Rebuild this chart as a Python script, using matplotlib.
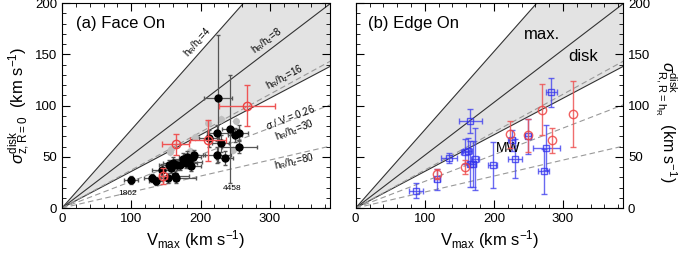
import numpy as np
import matplotlib.pyplot as plt
from matplotlib.ticker import MultipleLocator

plt.rcParams['font.family'] = ['Liberation Sans', 'DejaVu Sans']
plt.rcParams['mathtext.fontset'] = 'custom'
plt.rcParams['mathtext.rm'] = 'Liberation Sans'
plt.rcParams['mathtext.it'] = 'Liberation Sans:italic'
plt.rcParams['mathtext.bf'] = 'Liberation Sans:bold'

# slopes of the reference lines (sigma / Vmax)
slope_solid = [0.763, 0.515, 0.357]          # hR/hz = 4, 8, 16
slope_dash = [0.37, 0.26, 0.156]             # upper grey, sigma/V=0.26 (hR/hz=30), hR/hz=80

# panel (a): face-on, black points
a_x = [100, 130, 136, 144, 153, 155, 158, 160, 163, 164, 166, 170, 175, 179, 181,
       184, 186, 189, 191, 212, 224, 225, 229, 224, 235, 243, 250, 256, 256]
a_y = [27, 29, 26, 37, 29, 42, 39, 44, 31, 29, 42, 42, 48, 44, 50,
       45, 41, 50, 52, 68, 73, 107, 63, 52, 49, 77, 71, 73, 60]
a_xerr = [10, 12, 10, 14, 12, 15, 12, 14, 20, 30, 12, 14, 15, 16, 12,
          18, 14, 12, 15, 14, 15, 20, 12, 20, 12, 12, 10, 12, 25]
a_yerr = [4, 4, 4, 6, 5, 5, 5, 6, 5, 5, 5, 5, 6, 5, 6,
          6, 5, 5, 5, 8, 8, 62, 8, 8, 7, 53, 7, 8, 6]
# panel (a): grey points
g_x = [156, 158, 185, 192, 211, 230, 251, 247]
g_y = [55, 58, 56, 69, 83, 87, 85, 57]
# panel (a): red open circles
ra_x = [146, 164, 211, 267]
ra_y = [31, 62, 66, 100]
ra_xerr = [6, 19, 26, 40]
ra_yerr = [8, 10, 20, 20]

# panel (b): edge-on, blue squares
b_x = [87, 118, 135, 166, 158, 162, 166, 170, 173, 198, 226, 231, 249, 272, 276, 283]
b_y = [17, 28, 49, 85, 55, 56, 43, 43, 48, 42, 66, 48, 70, 36, 59, 113]
b_xerr = [10, 4, 12, 17, 6, 6, 4, 4, 6, 6, 5, 10, 4, 8, 20, 8]
b_yerr = [7, 10, 5, 12, 12, 12, 22, 22, 30, 22, 10, 19, 17, 22, 22, 14]
# panel (b): red open circles
rb_x = [118, 158, 224, 249, 269, 284, 315]
rb_y = [33, 40, 72, 71, 96, 66, 92]
rb_yerr = [5, 7, 13, 16, 25, 12, 32]

xx = np.array([0, 400])

fig = plt.figure(figsize=(6.84, 2.54), dpi=100)
ax1 = fig.add_axes([0.0906, 0.181, 0.392, 0.807])
ax2 = fig.add_axes([0.520, 0.181, 0.391, 0.807])

for ax in (ax1, ax2):
    ax.fill_between(xx, slope_solid[2]*xx, slope_solid[0]*xx, color='#e3e3e3', lw=0, zorder=0)
    for s in slope_solid:
        ax.plot(xx, s*xx, color='#333333', lw=0.8, zorder=1)
    for s in slope_dash:
        ax.plot(xx, s*xx, color='#999999', lw=0.8, ls=(0, (5, 3)), zorder=1)
    ax.set_xlim(0, 387)
    ax.set_ylim(0, 200)
    ax.xaxis.set_major_locator(MultipleLocator(100))
    ax.xaxis.set_minor_locator(MultipleLocator(20))
    ax.yaxis.set_major_locator(MultipleLocator(50))
    ax.yaxis.set_minor_locator(MultipleLocator(10))
    ax.tick_params(which='both', direction='in', top=True, right=True, labelsize=9.5)
    ax.tick_params(which='major', length=6)
    ax.tick_params(which='minor', length=3)
    ax.set_xlabel(r'V$_{\rm max}$ (km s$^{-1}$)', fontsize=12, labelpad=2)

# panel (a)
ax1.errorbar(g_x, g_y, xerr=5, yerr=4, fmt='o', ms=4, color='#c0c0c0', ecolor='#d0d0d0',
             elinewidth=0.8, capsize=0, zorder=2)
ax1.errorbar(a_x, a_y, xerr=a_xerr, yerr=a_yerr, fmt='o', ms=5, color='black', ecolor='#555555',
             elinewidth=0.9, capsize=1.2, zorder=3)
ax1.errorbar(ra_x, ra_y, xerr=ra_xerr, yerr=ra_yerr, fmt='o', ms=6, mfc='none', mec='#ee4444',
             ecolor='#ee5555', elinewidth=1.0, capsize=2.5, zorder=4)
ax1.text(20, 180, '(a) Face On', fontsize=12, va='center')
ax1.set_ylabel(r'$\sigma^{\rm disk}_{\rm z,R=0}$  (km s$^{-1}$)', fontsize=12, labelpad=2)

lab = dict(fontsize=7, ha='center', va='center', rotation_mode='anchor')
ax1.text(196, 162, r'h$_{\rm R}$/h$_{\rm z}$=4', rotation=48, **lab)
ax1.text(296, 163, r'h$_{\rm R}$/h$_{\rm z}$=8', rotation=37, **lab)
ax1.text(322, 128, r'h$_{\rm R}$/h$_{\rm z}$=16', rotation=28, **lab)
ax1.text(329, 89, r'$\sigma$ / V = 0.26', rotation=21, **lab)
ax1.text(336, 76, r'h$_{\rm R}$/h$_{\rm z}$=30', rotation=21, **lab)
ax1.text(336, 45, r'h$_{\rm R}$/h$_{\rm z}$=80', rotation=13, **lab)
ax1.text(95, 14.5, '1862', fontsize=6, ha='center', va='center')
ax1.text(245, 19.5, '4458', fontsize=6, ha='center', va='center')

# panel (b)
ax2.errorbar(b_x, b_y, xerr=b_xerr, yerr=b_yerr, fmt='s', ms=4.5, mfc='none', mec='#3333ee',
             ecolor='#4444ee', elinewidth=1.0, capsize=2.5, alpha=0.8, zorder=3)
ax2.errorbar(rb_x, rb_y, yerr=rb_yerr, fmt='o', ms=6, mfc='none', mec='#ee4444',
             ecolor='#ee5555', elinewidth=1.0, capsize=2.5, alpha=0.85, zorder=4)
ax2.text(18, 180, '(b) Edge On', fontsize=12, va='center')
ax2.text(270, 169, 'max.', fontsize=12, ha='center', va='center')
ax2.text(329, 148, 'disk', fontsize=12, ha='center', va='center')
ax2.text(220, 59, 'MW', fontsize=10, ha='center', va='center')
ax2.tick_params(labelleft=False, labelright=True)
ax2.set_ylabel(r'$\sigma^{\rm disk}_{\rm R,R=h_R}$  (km s$^{-1}$)', fontsize=11.5,
               rotation=-90, va='center', ha='center')
ax2.yaxis.set_label_position('right')
ax2.yaxis.set_label_coords(1.205, 0.42)

fig.savefig('out.png', dpi=100)
